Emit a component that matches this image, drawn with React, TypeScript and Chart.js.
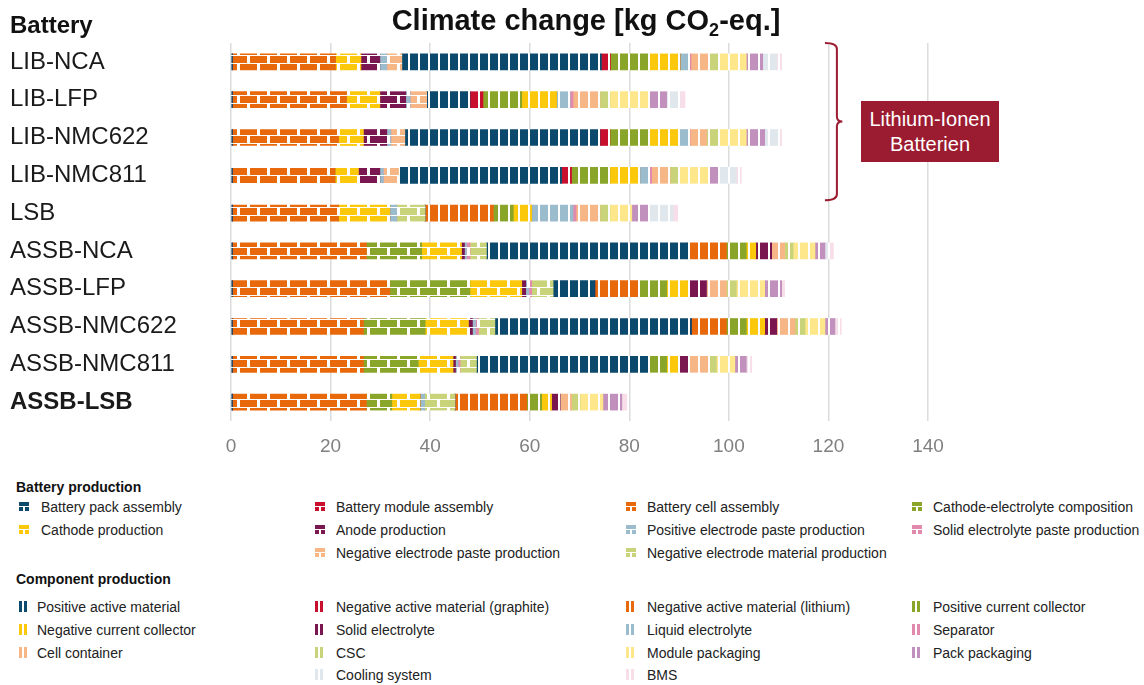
import React, { useEffect, useRef } from 'react';
import { Chart, registerables } from 'chart.js';

Chart.register(...registerables);

const FONT = '"Liberation Sans", Arial, Helvetica, sans-serif';

// ---------- categories ----------
const batteries = ['LIB-NCA', 'LIB-LFP', 'LIB-NMC622', 'LIB-NMC811', 'LSB', 'ASSB-NCA', 'ASSB-LFP', 'ASSB-NMC622', 'ASSB-NMC811', 'ASSB-LSB'];
const boldBattery = 'ASSB-LSB';

// ---------- x axis ----------
const xMin = 0;
const xMax = 140;
const xStep = 20;

// ---------- battery production (kg CO2-eq.) ----------
const packAssembly = [0.3, 0.3, 0.3, 0.3, 0.3, 0.3, 0.3, 0.3, 0.3, 0.3];
const moduleAssembly = [0, 0, 0, 0, 0, 0, 0, 0, 0, 0];
const cellAssembly = [20.7, 22.9, 21.3, 20.6, 21.3, 26.9, 31.6, 26.3, 26.3, 26.9];
const cathodeElectrolyteComposition = [0, 0, 0, 0, 0, 11.1, 16.1, 12.4, 11.0, 5.1];
const cathodeProduction = [5.1, 6.7, 5.0, 4.7, 10.3, 8.0, 10.4, 8.7, 7.0, 5.7];
const anodeProduction = [3.8, 5.2, 4.7, 4.3, 0, 0.6, 0.8, 0.8, 0.5, 0];
const positivePasteProduction = [1.4, 0.9, 0.8, 0.7, 1.4, 0.4, 0.6, 0.6, 0.5, 0.9];
const solidElectrolytePasteProduction = [0, 0, 0, 0, 0, 0.7, 0.6, 0.6, 0.4, 0];
const negativePasteProduction = [3.0, 3.3, 2.8, 3.0, 0, 0, 0, 0, 0, 0];
const negativeMaterialProduction = [0, 0, 0, 0, 5.7, 3.3, 4.3, 3.3, 3.3, 6.1];

// ---------- component production (kg CO2-eq.) ----------
const positiveActiveMaterial = [40.1, 8.7, 39.2, 32.8, 0, 40.5, 8.4, 39.5, 34.5, 0];
const negativeGraphite = [1.8, 2.6, 2.0, 2.0, 0, 0, 0, 0, 0, 0];
const negativeLithium = [0, 0, 0, 0, 13.7, 7.7, 8.7, 7.0, 0, 14.4];
const positiveCurrentCollector = [7.9, 7.8, 7.6, 7.7, 4.0, 4.0, 5.7, 4.0, 3.7, 3.0];
const negativeCurrentCollector = [6.1, 7.0, 6.1, 6.0, 3.7, 1.9, 4.3, 3.7, 2.3, 2.0];
const solidElectrolyte = [0, 0, 0, 0, 0, 3.2, 3.7, 2.4, 2.0, 1.7];
const liquidElectrolyte = [1.6, 2.7, 2.0, 2.0, 8.3, 0, 0, 0, 0, 0];
const separator = [0.6, 0.6, 0.4, 0.4, 0.6, 0, 0, 0, 0, 0];
const cellContainer = [3.4, 5.4, 3.3, 3.7, 4.8, 2.6, 4.0, 3.7, 4.0, 2.3];
const csc = [2.0, 2.0, 2.4, 1.6, 2.0, 1.7, 2.0, 2.0, 1.7, 1.7];
const modulePackaging = [5.7, 7.7, 5.6, 6.0, 4.4, 4.4, 5.7, 4.0, 3.7, 4.6];
const packPackaging = [3.3, 3.7, 3.7, 2.1, 3.3, 2.0, 3.4, 2.0, 2.3, 3.8];
const coolingSystem = [2.8, 2.7, 2.6, 3.6, 5.0, 0.5, 0, 0, 0, 0];
const bms = [1.0, 1.0, 0.8, 1.0, 1.0, 1.2, 0.6, 1.3, 1.1, 1.0];

// ---------- colours ----------
const C = {
  darkBlue: '#0c4a6d',
  red: '#c8102e',
  orange: '#e8680c',
  green: '#8aa62a',
  yellow: '#fcc80c',
  purple: '#7a1650',
  lightBlue: '#9bbccd',
  pink: '#e28aae',
  lightOrange: '#f7b685',
  lightGreen: '#c8d37a',
  lightYellow: '#fde78a',
  mauve: '#c290bd',
  lightGray: '#e0e8ee',
  lightPink: '#f8dee8',
};

type Series = { label: string; data: number[]; color: string; slot: number };

const productionSeries: Series[] = [
  { label: 'Battery pack assembly', data: packAssembly, color: C.darkBlue, slot: 0 },
  { label: 'Battery module assembly', data: moduleAssembly, color: C.red, slot: 1 },
  { label: 'Battery cell assembly', data: cellAssembly, color: C.orange, slot: 2 },
  { label: 'Cathode-electrolyte composition', data: cathodeElectrolyteComposition, color: C.green, slot: 3 },
  { label: 'Cathode production', data: cathodeProduction, color: C.yellow, slot: 4 },
  { label: 'Anode production', data: anodeProduction, color: C.purple, slot: 5 },
  { label: 'Positive electrode paste production', data: positivePasteProduction, color: C.lightBlue, slot: 6 },
  { label: 'Solid electrolyte paste production', data: solidElectrolytePasteProduction, color: C.pink, slot: 7 },
  { label: 'Negative electrode paste production', data: negativePasteProduction, color: C.lightOrange, slot: 9 },
  { label: 'Negative electrode material production', data: negativeMaterialProduction, color: C.lightGreen, slot: 10 },
];

const componentSeries: Series[] = [
  { label: 'Positive active material', data: positiveActiveMaterial, color: C.darkBlue, slot: 0 },
  { label: 'Negative active material (graphite)', data: negativeGraphite, color: C.red, slot: 1 },
  { label: 'Negative active material (lithium)', data: negativeLithium, color: C.orange, slot: 2 },
  { label: 'Positive current collector', data: positiveCurrentCollector, color: C.green, slot: 3 },
  { label: 'Negative current collector', data: negativeCurrentCollector, color: C.yellow, slot: 4 },
  { label: 'Solid electrolyte', data: solidElectrolyte, color: C.purple, slot: 5 },
  { label: 'Liquid electrolyte', data: liquidElectrolyte, color: C.lightBlue, slot: 6 },
  { label: 'Separator', data: separator, color: C.pink, slot: 7 },
  { label: 'Cell container', data: cellContainer, color: C.lightOrange, slot: 8 },
  { label: 'CSC', data: csc, color: C.lightGreen, slot: 9 },
  { label: 'Module packaging', data: modulePackaging, color: C.lightYellow, slot: 10 },
  { label: 'Pack packaging', data: packPackaging, color: C.mauve, slot: 11 },
  { label: 'Cooling system', data: coolingSystem, color: C.lightGray, slot: 13 },
  { label: 'BMS', data: bms, color: C.lightPink, slot: 14 },
];

function brickPattern(ctx: CanvasRenderingContext2D, color: string) {
  const t = document.createElement('canvas');
  t.width = 20;
  t.height = 16;
  const g = t.getContext('2d')!;
  g.fillStyle = '#ffffff';
  g.fillRect(0, 0, 20, 16);
  g.fillStyle = color;
  g.fillRect(0, 0, 17, 7);
  g.fillRect(0, 8, 7, 7);
  g.fillRect(10, 8, 10, 7);
  return ctx.createPattern(t, 'repeat')!;
}

function stripePattern(ctx: CanvasRenderingContext2D, color: string) {
  const t = document.createElement('canvas');
  t.width = 10;
  t.height = 4;
  const g = t.getContext('2d')!;
  g.fillStyle = '#ffffff';
  g.fillRect(0, 0, 10, 4);
  g.fillStyle = color;
  g.fillRect(0, 0, 8, 4);
  return ctx.createPattern(t, 'repeat')!;
}

const bracketPlugin = {
  id: 'liBracket',
  afterDraw(chart: any) {
    const { ctx, scales } = chart;
    const x = scales.x;
    const y = scales.y;
    const xl = x.getPixelForValue(119.3);
    const xr = x.getPixelForValue(121.7);
    const xp = x.getPixelForValue(122.8);
    const top = y.getPixelForValue(0) - 19;
    const bottom = y.getPixelForValue(3) + 25;
    const mid = (top + bottom) / 2;
    ctx.save();
    ctx.strokeStyle = '#9b1b30';
    ctx.lineWidth = 2;
    ctx.beginPath();
    ctx.moveTo(xl, top);
    ctx.quadraticCurveTo(xr, top, xr, top + 6);
    ctx.lineTo(xr, mid - 5);
    ctx.quadraticCurveTo(xr, mid, xp, mid);
    ctx.quadraticCurveTo(xr, mid, xr, mid + 5);
    ctx.lineTo(xr, bottom - 6);
    ctx.quadraticCurveTo(xr, bottom, xl, bottom);
    ctx.stroke();
    ctx.restore();
  },
};

function BrickIcon({ color }: { color: string }) {
  return (
    <div style={{ position: 'relative', width: 10, height: 10 }}>
      <div style={{ position: 'absolute', left: 0, top: 0, width: 10, height: 4, background: color }} />
      <div style={{ position: 'absolute', left: 0, top: 5, width: 4, height: 4, background: color }} />
      <div style={{ position: 'absolute', left: 6, top: 5, width: 4, height: 4, background: color }} />
    </div>
  );
}

function StripeIcon({ color }: { color: string }) {
  return (
    <div style={{ position: 'relative', width: 8, height: 11 }}>
      <div style={{ position: 'absolute', left: 0, top: 0, width: 3, height: 11, background: color }} />
      <div style={{ position: 'absolute', left: 5, top: 0, width: 3, height: 11, background: color }} />
    </div>
  );
}

const colIconX = [19, 315, 626, 912];
const colTextX = [41, 336, 647, 933];
const colTextXComp = [37, 336, 647, 933];
const prodRowY = [507, 530, 553];
const compRowY = [607, 630, 653, 675];

function LegendItem({ s, kind }: { s: Series; kind: 'brick' | 'stripe' }) {
  const col = s.slot % 4;
  const row = Math.floor(s.slot / 4);
  const cy = kind === 'brick' ? prodRowY[row] : compRowY[row];
  const tx = kind === 'brick' ? colTextX[col] : colTextXComp[col];
  return (
    <>
      <div style={{ position: 'absolute', left: colIconX[col], top: cy - (kind === 'brick' ? 5 : 6) }}>
        {kind === 'brick' ? <BrickIcon color={s.color} /> : <StripeIcon color={s.color} />}
      </div>
      <div style={{ position: 'absolute', left: tx, top: cy - 10, height: 20, lineHeight: '20px', fontSize: 14, color: '#222', whiteSpace: 'nowrap' }}>
        {s.label}
      </div>
    </>
  );
}

export default function App() {
  const canvasRef = useRef<HTMLCanvasElement | null>(null);

  useEffect(() => {
    const canvas = canvasRef.current;
    if (!canvas) return;
    const ctx = canvas.getContext('2d')!;
    const datasets = [
      ...productionSeries.map((s) => ({
        label: s.label,
        data: s.data,
        backgroundColor: brickPattern(ctx, s.color),
        borderWidth: 0,
        barThickness: 16,
        stack: 'total',
      })),
      ...componentSeries.map((s) => ({
        label: s.label,
        data: s.data,
        backgroundColor: stripePattern(ctx, s.color),
        borderWidth: 0,
        barThickness: 16,
        stack: 'total',
      })),
    ];
    const chart = new Chart(canvas, {
      type: 'bar',
      data: { labels: batteries, datasets },
      options: {
        indexAxis: 'y',
        animation: false,
        responsive: true,
        maintainAspectRatio: false,
        layout: { padding: { left: 10, right: 216, top: 43, bottom: 0 } },
        plugins: {
          legend: { display: false },
          tooltip: { enabled: false },
          title: { display: false },
        },
        scales: {
          x: {
            stacked: true,
            min: xMin,
            max: xMax,
            ticks: { stepSize: xStep, color: '#808080', font: { family: FONT, size: 19 }, padding: 14 },
            grid: { color: '#dcdcdc', lineWidth: 1.5, drawTicks: false },
            border: { display: false },
            afterFit: (s: any) => {
              s.height = 40;
            },
          },
          y: {
            stacked: true,
            ticks: {
              crossAlign: 'far',
              color: '#1a1a1a',
              font: (c: any) => ({
                family: FONT,
                size: 24,
                weight: batteries[c.index] === boldBattery ? 'bold' : 'normal',
              }),
            },
            grid: { display: false },
            border: { display: false },
            afterFit: (s: any) => {
              s.width = 221;
            },
          },
        },
      } as any,
      plugins: [bracketPlugin],
    });
    return () => chart.destroy();
  }, []);

  return (
    <div style={{ position: 'absolute', left: 0, top: 0, width: 1144, height: 685, background: '#fff', fontFamily: FONT, overflow: 'hidden' }}>
      <div style={{ position: 'absolute', left: 0, top: 0, width: 1144, height: 461 }}>
        <canvas ref={canvasRef} />
      </div>
      <div style={{ position: 'absolute', left: 286, top: 6, width: 600, textAlign: 'center', fontWeight: 'bold', fontSize: 29, lineHeight: '29px', color: '#111', whiteSpace: 'nowrap' }}>
        Climate change [kg CO<sub style={{ fontSize: 18, verticalAlign: -6, lineHeight: 0 }}>2</sub>-eq.]
      </div>
      <div style={{ position: 'absolute', left: 10, top: 13, fontWeight: 'bold', fontSize: 24, lineHeight: '24px', color: '#111' }}>Battery</div>
      <div style={{ position: 'absolute', left: 861, top: 101, width: 138, height: 61, background: '#9b1b30', color: '#fff', fontSize: 20, lineHeight: '25px', display: 'flex', flexDirection: 'column', alignItems: 'center', justifyContent: 'center' }}>
        <div>Lithium-Ionen</div>
        <div>Batterien</div>
      </div>
      <div style={{ position: 'absolute', left: 16, top: 477, fontWeight: 'bold', fontSize: 14, lineHeight: '20px', color: '#111' }}>Battery production</div>
      {productionSeries.map((s) => (
        <LegendItem key={s.label} s={s} kind="brick" />
      ))}
      <div style={{ position: 'absolute', left: 16, top: 569, fontWeight: 'bold', fontSize: 14, lineHeight: '20px', color: '#111' }}>Component production</div>
      {componentSeries.map((s) => (
        <LegendItem key={s.label} s={s} kind="stripe" />
      ))}
    </div>
  );
}
